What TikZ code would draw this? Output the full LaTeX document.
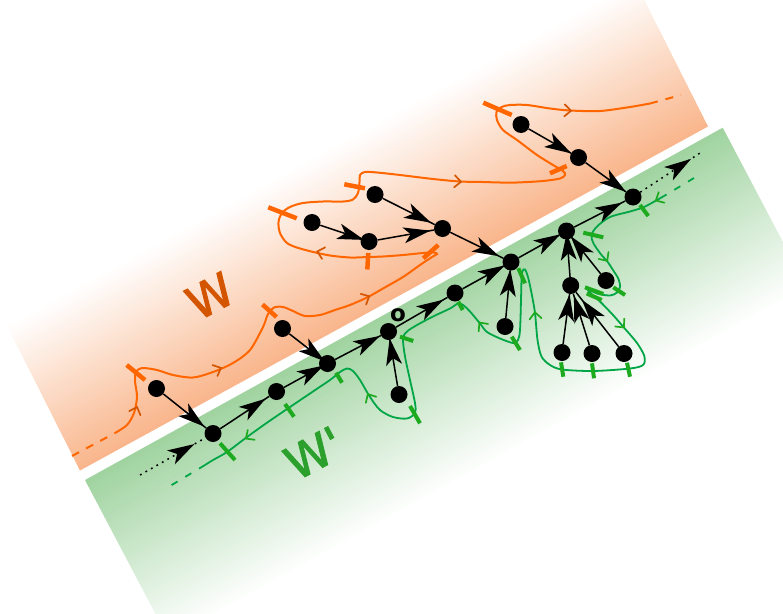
\documentclass[tikz,border=0pt]{standalone}
\usepackage{fontspec}
\newfontfamily\labfont{DejaVu Sans}
\newfontfamily\labfontb{DejaVu Sans}[BoldFont={DejaVu Sans}, BoldFeatures={FakeBold=2.2}]
\usetikzlibrary{decorations.markings}
\definecolor{orangeband}{RGB}{249,182,140}
\definecolor{greenband}{RGB}{160,211,160}
\definecolor{oline}{RGB}{255,102,0}
\definecolor{ochev}{RGB}{212,85,0}
\definecolor{gline}{RGB}{0,166,70}
\definecolor{gtick}{RGB}{30,170,30}
\definecolor{wlab}{RGB}{212,85,0}
\definecolor{wplab}{RGB}{44,160,44}
\tikzset{
 blackdot/.style={circle,fill=black,inner sep=0pt,minimum size=17pt},
 darr/.style={line width=1.5pt, postaction={decorate}, decoration={markings, mark=at position 0.5 with {\fill[black] (5,0) -- (-2,8) -- (25,0) -- (-2,-8) -- cycle;}}},
 dotline/.style={line width=1.5pt, dash pattern=on 1.8pt off 4.5pt},
 orangepath/.style={oline, line width=2pt},
 greenpath/.style={gline, line width=1.8pt},
 otick/.style={oline, line width=4.5pt},
 gtickst/.style={gtick, line width=4pt},
 chevst/.style={line width=1.7pt, line cap=round, line join=miter},
 biglabel/.style={font=\labfontb\bfseries\fontsize{46}{48}\selectfont, rotate=28, inner sep=0pt},
}
\newcommand\chevr[4]{\draw[#4,chevst,shift={(#1,#2)},rotate=#3] (-5.5,-6) -- (1,0) -- (-5.5,6);}
\begin{document}
\begin{tikzpicture}[x=1pt,y=-1pt]
\path[use as bounding box] (0,0) rectangle (783,613);
\clip (0,0) rectangle (783,613);
% orange band
\begin{scope}[shift={(80,470.5)}, x={(628pt,344pt)}, y={(-0.45pt,0.893pt)}]
 \foreach \i in {0,...,59}{
   \pgfmathsetmacro\p{max(0,100-\i*3.5/1.6)}
   \fill[orangeband!\p!white] (0,{\i*3.5}) -- (1,{\i*3.5}) -- (1,{\i*3.5+4}) -- (0,{\i*3.5+4}) -- cycle;
 }
\end{scope}
% green band
\begin{scope}[shift={(85,480)}, x={(637.7pt,352.3pt)}, y={(0.466pt,-0.885pt)}]
 \foreach \i in {0,...,59}{
   \pgfmathsetmacro\p{max(0,100-\i*3.5/1.8)}
   \fill[greenband!\p!white] (0,{\i*3.5}) -- (1,{\i*3.5}) -- (1,{\i*3.5+4}) -- (0,{\i*3.5+4}) -- cycle;
 }
\end{scope}
% labels
\node[biglabel, text=wlab] (Wl) at (210,296) {W};
\node[biglabel, text=wplab] (Wpl) at (314,453) {W'};
% orange walk
\draw[orangepath, dash pattern=on 8pt off 8pt] (72,456) -- (115,433);
\draw[orangepath, dash pattern=on 8pt off 8pt] (650,103.5) -- (681,95);
\draw[orangepath] plot[smooth, tension=0.5] coordinates {
 (115,433) (127,425) (134,413) (137,397) (135,381) (136,372) (142,368) (157,370) (173,375) (193,377.5)
 (213,372) (233,363) (250,350) (263,327) (268,314) (274,307.5) (283,307) (293,311) (305,316) (320,315)
 (335,310) (350,305) (368,297) (383,288.5) (403,277) (420,265) (432,257) (437,254) (434,252.5)
 (423,253) (403,255) (383,256.5) (368,257) (350,257.5) (327,255) (300,248.5) (287,243) (280,233)
 (278.5,222) (282,213) (290,207) (303,203) (323,201.5) (343,201.5) (353,199.5) (358,193) (359.5,182)
 (360,175) (365,172) (377,172.5) (400,175) (433,179) (460,181.5) (483,182) (500,182.5) (517,182.5)
 (543,181) (560,178.5) (565,175) (563,171) (553,165) (537,155) (517,140) (503,130) (497,120)
 (496.5,112) (501.5,107) (510,105) (527,105) (550,108.5) (570,110.5) (600,111) (630,107) (650,103.5)};
\draw[otick] (126.7,365) -- (145,380);
\draw[otick] (262.5,304.5) -- (276.5,317);
\draw[otick] (423.3,258.3) -- (438.3,245);
\draw[otick] (368.3,253) -- (367.3,269.5);
\draw[otick] (268.3,207.3) -- (296.7,218.3);
\draw[otick] (344.3,184.3) -- (365,188.3);
\draw[otick] (550,173.3) -- (566.7,166);
\draw[otick] (483.3,102.7) -- (511.7,115);
\chevr{136.7}{408}{70}{ochev}
\chevr{220}{368.3}{24}{ochev}
\chevr{368.3}{296.7}{27}{ochev}
\chevr{318.3}{251.7}{165}{ochev}
\chevr{460}{181.7}{-4}{ochev}
\chevr{570}{110.7}{-3}{ochev}
% green walk
\draw[greenpath, dash pattern=on 7pt off 9pt] (694,178) -- (664,196);
\draw[greenpath, dash pattern=on 7pt off 9pt] (205,465) -- (170,486);
\draw[greenpath] plot[smooth, tension=0.5] coordinates {
 (664,196) (657,200) (644,207) (630,211.5) (610,217) (597,226.5) (591.5,235) (593.5,243.5) (601.5,255)
 (607,261) (613,270) (618.5,279) (620,287) (617,292.5) (610,295.5) (597,293.5) (587,288.5)
 (591,293.5) (600,301.5) (613,315) (623,326.5) (637,343) (644.5,356.5) (643,365) (630,368.5)
 (593,371) (562,369.5) (550,365) (541.5,356.5) (537.5,340) (535,313) (531.5,293) (528,277)
 (525,269.5) (522.5,271) (521.5,280) (521,300) (520,330) (518,340) (513,343) (500,338.5)
 (487,332) (480,323.5) (470,311.5) (463,305) (458,303.5) (450,308.5) (433,316.5) (417,325)
 (407,331.5) (403,338.5) (405,356.5) (410,380) (415,403) (415,413) (407,418.5) (393,417)
 (380,410) (370,397) (360,380) (353,371) (347,368.5) (340,372) (330,380) (310,393.5) (290,407)
 (268,422) (247,437) (227,452) (213,460) (205,465)};
\draw[gtickst] (640,205) -- (648.3,216);
\draw[gtickst] (583.3,232.7) -- (603.3,237.3);
\draw[gtickst] (613.3,287.3) -- (625,295);
\draw[gtickst] (585,287.3) -- (603.3,294);
\draw[gtickst] (586.7,293.5) -- (601.7,300);
\draw[gtickst] (561,362.3) -- (563.3,376.7);
\draw[gtickst] (592,363.3) -- (594,378.3);
\draw[gtickst] (627,362.7) -- (630,376.7);
\draw[gtickst] (518.3,268.3) -- (525,283.3);
\draw[gtickst] (511.7,336.7) -- (520,350);
\draw[gtickst] (458.3,301.7) -- (462.7,310);
\draw[gtickst] (400,336.7) -- (413.3,341);
\draw[gtickst] (410,406) -- (420,423.3);
\draw[gtickst] (336,372.7) -- (342,382.7);
\draw[gtickst] (285,404) -- (294,416.7);
\draw[gtickst] (220,443.3) -- (235,460);
\chevr{656.7}{200}{208}{gtick}
\chevr{606.7}{260}{-55}{gtick}
\chevr{623.3}{326.7}{-49}{gtick}
\chevr{535}{313.3}{96}{gtick}
\chevr{480}{323.3}{128}{gtick}
\chevr{368.3}{395}{120}{gtick}
\chevr{246.7}{438}{215}{gtick}
% nodes
\node[blackdot] (A) at (156.5,388.5) {};
\node[blackdot] (B) at (213,433.5) {};
\node[blackdot] (C) at (276.5,391.5) {};
\node[blackdot] (H) at (282.5,328.5) {};
\node[blackdot] (T) at (327.5,363.5) {};
\node[blackdot] (O) at (388.5,331.5) {};
\node[blackdot] (U) at (399,394.5) {};
\node[blackdot] (N) at (455,293) {};
\node[blackdot] (P) at (505,326.5) {};
\node[blackdot] (M) at (511,262) {};
\node[blackdot] (L) at (566.5,231) {};
\node[blackdot] (Q) at (570.7,285.5) {};
\node[blackdot] (R) at (606,280.5) {};
\node[blackdot] (S1) at (562,352.5) {};
\node[blackdot] (S2) at (592,353.5) {};
\node[blackdot] (S3) at (624,353.5) {};
\node[blackdot] (K) at (633,197) {};
\node[blackdot] (J) at (578.5,157.5) {};
\node[blackdot] (I) at (521,124.5) {};
\node[blackdot] (G) at (442.5,228.5) {};
\node[blackdot] (F) at (369,241.5) {};
\node[blackdot] (E) at (312,222.5) {};
\node[blackdot] (D) at (375,194.5) {};
\node[font=\labfont\bfseries\fontsize{23}{25}\selectfont, inner sep=0pt] (ol) at (398,315.5) {o};
\coordinate (start) at (140,475);
\coordinate (finish) at (700,153);
% edges
\draw[darr, dotline] (start) -- (B);
\draw[darr, dotline] (K) -- (finish);
\foreach \a/\b in {A/B,B/C,C/T,H/T,T/O,U/O,O/N,N/M,G/M,P/M,M/L,Q/L,R/L,S1/Q,S2/Q,S3/Q,L/K,J/K,I/J,D/G,E/F,F/G}
  \draw[darr] (\a) -- (\b);
\end{tikzpicture}
\end{document}
